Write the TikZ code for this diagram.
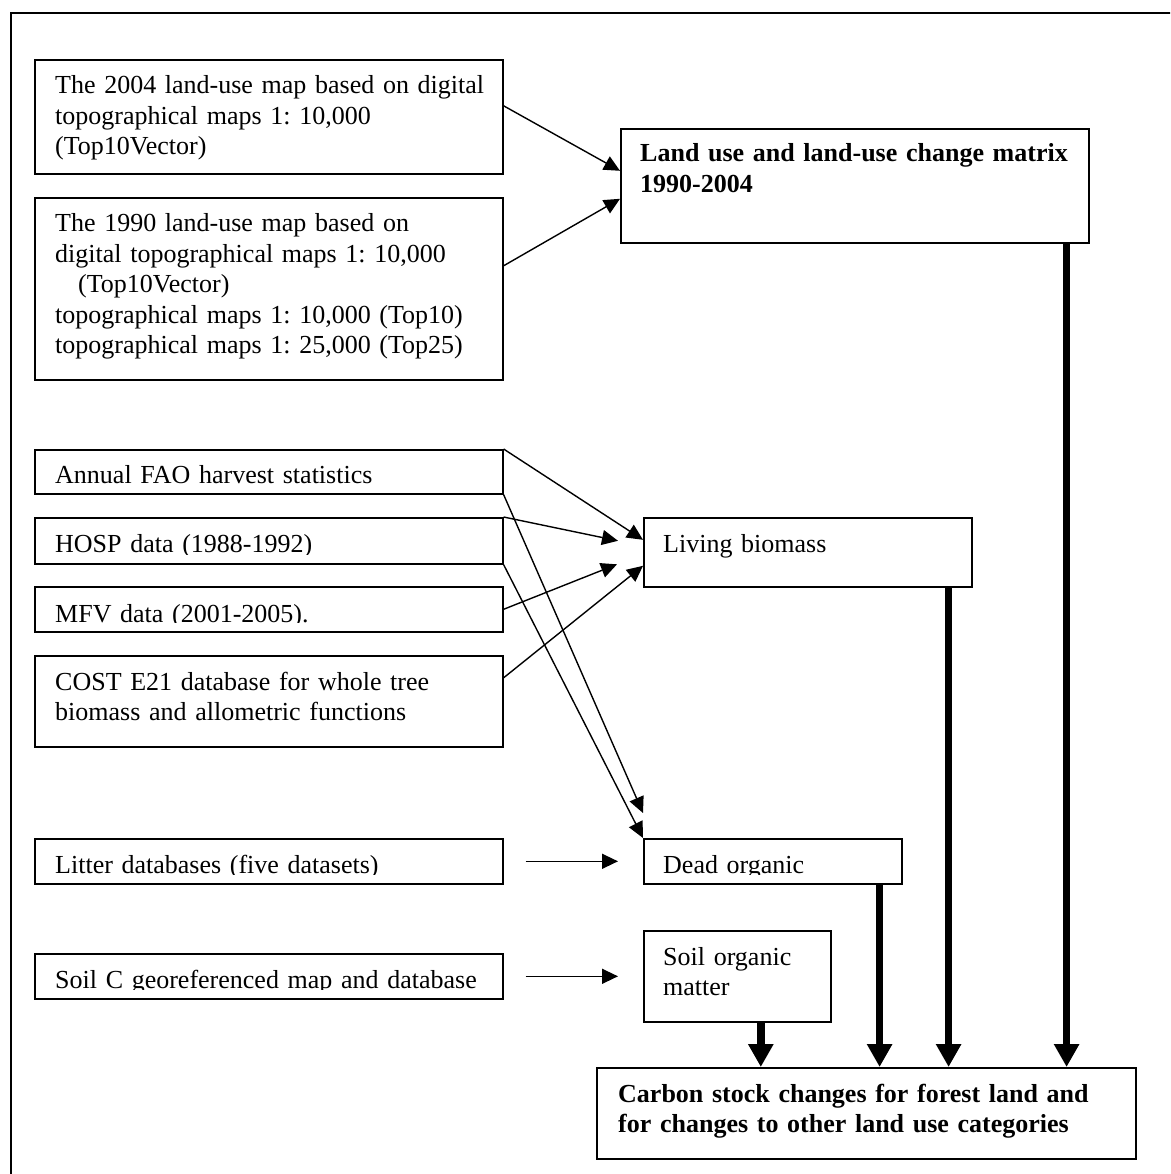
\documentclass[tikz,border=0pt]{standalone}
\usepackage{fontspec}
\setmainfont{Liberation Serif}
\usetikzlibrary{arrows.meta,positioning,calc}
\frenchspacing

\begin{document}
\begin{tikzpicture}[x=1pt, y=-1pt,
    box/.style={draw, line width=1.6pt, anchor=north west, inner sep=0pt},
    txt/.style={anchor=base west, inner sep=0pt, text width=600pt, align=left,
      font=\fontsize{26}{30.5}\selectfont},
    feed/.style={line width=1.4pt, -{Triangle[length=16pt,width=15pt]}},
    sum/.style={line width=7.5pt, -{Triangle[length=23pt,width=24pt]}}
  ]
  \clip (0,0) rectangle (1170,1174);

  % Outer frame
  \draw[line width=2pt] (11,13) rectangle (1190,1190);

  % Map boxes
  \node[box, minimum width=468pt, minimum height=114pt] (map04) at (34,59) {};
  \node[box, minimum width=468pt, minimum height=182pt] (map90) at (34,197) {};
  \node[box, minimum width=468pt, minimum height=114pt] (matrix) at (620,128) {};

  % Data boxes
  \node[box, minimum width=468pt, minimum height=44pt] (fao) at (34,449) {};
  \node[box, minimum width=468pt, minimum height=46pt] (hosp) at (34,517) {};
  \node[box, minimum width=468pt, minimum height=45pt] (mfv) at (34,586) {};
  \node[box, minimum width=468pt, minimum height=91pt] (cost) at (34,655) {};
  \node[box, minimum width=468pt, minimum height=45pt] (litter) at (34,838) {};
  \node[box, minimum width=468pt, minimum height=45pt] (soilc) at (34,953) {};

  % Pools
  \node[box, minimum width=328pt, minimum height=69pt] (bio) at (643,517) {};
  \node[box, minimum width=258pt, minimum height=45pt] (dead) at (643,838) {};
  \node[box, minimum width=187pt, minimum height=91pt] (som) at (643,930) {};
  \node[box, minimum width=539pt, minimum height=91pt] (carbon) at (596,1067) {};

  % Texts
  \node[txt] (map04t) at ([shift={(21,35)}]map04.north west)
    {The 2004 land-use map based on digital\\topographical maps 1: 10,000\\(Top10Vector)};
  \node[txt] (map90t) at ([shift={(21,35)}]map90.north west)
    {The 1990 land-use map based on\\digital topographical maps 1: 10,000\\\hspace*{23pt}(Top10Vector)\\topographical maps 1: 10,000 (Top10)\\topographical maps 1: 25,000 (Top25)};
  \node[txt, font=\fontsize{26}{30.5}\selectfont\bfseries] (matrixt) at ([shift={(20,34)}]matrix.north west)
    {Land use and land-use change matrix\\1990-2004};
  \node[txt] (faot) at ([shift={(21,34)}]fao.north west) {Annual FAO harvest statistics};
  \begin{scope}
    \clip (hosp.north west) rectangle ([yshift=10pt]hosp.south east);
    \node[txt] (hospt) at ([shift={(21,35)}]hosp.north west) {HOSP data (1988-1992)};
  \end{scope}
  \begin{scope}
    \clip (mfv.north west) rectangle ([yshift=10pt]mfv.south east);
    \node[txt] (mfvt) at ([shift={(21,36)}]mfv.north west) {MFV data (2001-2005).};
  \end{scope}
  \node[txt] (costt) at ([shift={(21,35)}]cost.north west)
    {COST E21 database for whole tree\\biomass and allometric functions};
  \begin{scope}
    \clip (litter.north west) rectangle ([yshift=10pt]litter.south east);
    \node[txt] (littert) at ([shift={(21,35)}]litter.north west) {Litter databases (five datasets)};
  \end{scope}
  \begin{scope}
    \clip (soilc.north west) rectangle ([yshift=10pt]soilc.south east);
    \node[txt] (soilct) at ([shift={(21,35)}]soilc.north west) {Soil C georeferenced map and database};
  \end{scope}
  \node[txt] (biot) at ([shift={(20,35)}]bio.north west) {Living biomass};
  \begin{scope}
    \clip (dead.north west) rectangle ([yshift=10pt]dead.south east);
    \node[txt] (deadt) at ([shift={(20,35)}]dead.north west) {Dead organic};
  \end{scope}
  \node[txt] (somt) at ([shift={(20,35)}]som.north west) {Soil organic\\matter};
  \node[txt, font=\fontsize{26}{30.5}\selectfont\bfseries] (carbont) at ([shift={(22,35)}]carbon.north west)
    {Carbon stock changes for forest land and\\for changes to other land use categories};

  % Inputs to the matrix
  \draw[feed] ([yshift=11pt]map04.east) -- ([yshift=15pt]matrix.west);
  \draw[feed] ([yshift=23pt]map90.east) -- ([yshift=-13pt]matrix.west);

  % Inputs to living biomass
  \draw[feed] (fao.north east) -- ([yshift=12.5pt]bio.west);
  \draw[feed] (hosp.north east) -- ([xshift=-25pt,yshift=11.5pt]bio.west);
  \draw[feed] (mfv.east) -- ([xshift=-26pt,yshift=-12pt]bio.west);
  \draw[feed] ([yshift=23.5pt]cost.east) -- ([yshift=-13.5pt]bio.west);

  % Inputs to dead organic matter and soil
  \draw[feed] (fao.south east) -- ([yshift=25pt]dead.north west);
  \draw[feed] (hosp.south east) -- (dead.north west);
  \draw[feed, shorten <=22pt, shorten >=25pt] (litter.east) -- (dead.west);
  \draw[feed, shorten <=22pt, shorten >=25pt] (soilc.east) -- (som.west);

  % Pools to carbon stock changes
  \coordinate (somout) at ([xshift=23.5pt]som.south);
  \coordinate (deadout) at ([xshift=-23pt]dead.south east);
  \coordinate (bioout) at ([xshift=-24pt]bio.south east);
  \coordinate (matrixout) at ([xshift=-23pt]matrix.south east);
  \draw[sum] (somout) -- (somout |- carbon.north);
  \draw[sum] (deadout) -- (deadout |- carbon.north);
  \draw[sum] (bioout) -- (bioout |- carbon.north);
  \draw[sum] (matrixout) -- (matrixout |- carbon.north);
\end{tikzpicture}
\end{document}
